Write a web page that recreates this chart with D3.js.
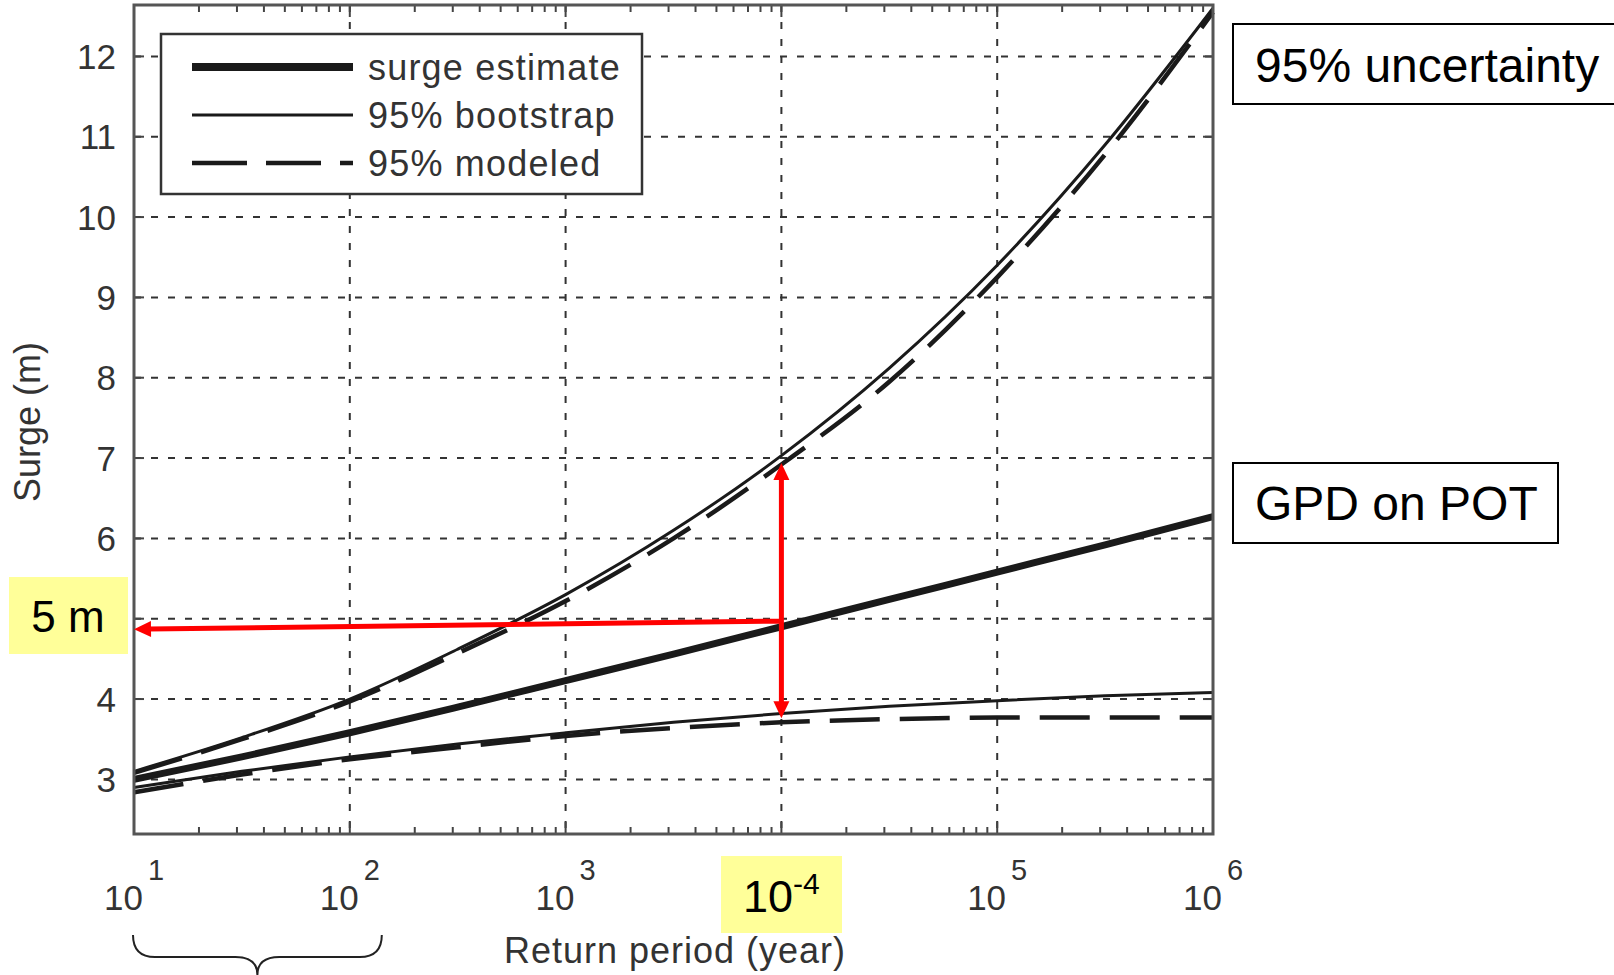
<!DOCTYPE html>
<html>
<head>
<meta charset="utf-8">
<script src="https://cdn.jsdelivr.net/npm/d3@7"></script>
<style>
  body { margin: 0; background: #fff; }
  text { font-family: "Liberation Sans", Arial, sans-serif; }
</style>
</head>
<body>
<svg id="chart" width="1614" height="975"></svg>
<script>
// return periods (years), half-decade steps
var returnPeriods = [10, 31.6, 100, 316, 1000, 3162, 10000, 31623, 100000, 316228, 1000000];
var surgeEstimate = [3.0, 3.28, 3.58, 3.9, 4.23, 4.56, 4.9, 5.24, 5.58, 5.92, 6.27];
var bootUpper = [3.1, 3.52, 4.0, 4.62, 5.3, 6.1, 7.03, 8.12, 9.4, 10.9, 12.6];
var bootLower = [2.9, 3.1, 3.28, 3.44, 3.58, 3.71, 3.82, 3.91, 3.98, 4.04, 4.08];
var modelUpper = [3.08, 3.5, 3.97, 4.57, 5.22, 6.0, 6.92, 7.95, 9.25, 10.78, 12.55];
var modelLower = [2.84, 3.06, 3.25, 3.4, 3.54, 3.64, 3.71, 3.75, 3.77, 3.77, 3.77];

var xTicks = [10, 100, 1000, 10000, 100000, 1000000];
var xTickExp = ['1', '2', '3', '-4', '5', '6'];
var yTicks = [3, 4, 5, 6, 7, 8, 9, 10, 11, 12];
var yTickLabels = ['3', '4', '', '6', '7', '8', '9', '10', '11', '12']; // "5" is under the yellow "5 m" note
var legendLabels = ['surge estimate', '95% bootstrap', '95% modeled'];

// annotation values
var arrowH = [[10000, 4.97], [10, 4.87]];
var arrowV = [[10000, 3.76], [10000, 6.94]];

var svg = d3.select('#chart');
var pLeft = 134, pRight = 1213, pTop = 5, pBottom = 834;

var x = d3.scaleLog().domain([10, 1000000]).range([pLeft, pRight]);
var y = d3.scaleLinear().domain([2.32, 12.64]).range([pBottom, pTop]);

svg.append('rect').attr('width', 1614).attr('height', 975).attr('fill', '#fff');

// grid
var grid = svg.append('g').attr('stroke', '#333').attr('stroke-width', 2).attr('stroke-dasharray', '7,10');
grid.selectAll('.gx').data(xTicks.slice(1, -1)).enter().append('line')
  .attr('x1', function(d) { return x(d); }).attr('x2', function(d) { return x(d); })
  .attr('y1', pTop).attr('y2', pBottom);
grid.selectAll('.gy').data(yTicks).enter().append('line')
  .attr('x1', pLeft).attr('x2', pRight)
  .attr('y1', function(d) { return y(d); }).attr('y2', function(d) { return y(d); });

// minor/major ticks
var minor = [];
for (var e = 1; e < 6; e++) {
  for (var k = 2; k < 10; k++) minor.push(k * Math.pow(10, e));
}
var ticks = svg.append('g').attr('stroke', '#444').attr('stroke-width', 2);
minor.forEach(function(d) {
  ticks.append('line').attr('x1', x(d)).attr('x2', x(d)).attr('y1', pBottom).attr('y2', pBottom - 7);
  ticks.append('line').attr('x1', x(d)).attr('x2', x(d)).attr('y1', pTop).attr('y2', pTop + 7);
});
xTicks.forEach(function(d) {
  ticks.append('line').attr('x1', x(d)).attr('x2', x(d)).attr('y1', pBottom).attr('y2', pBottom - 12);
  ticks.append('line').attr('x1', x(d)).attr('x2', x(d)).attr('y1', pTop).attr('y2', pTop + 12);
});
yTicks.forEach(function(d) {
  ticks.append('line').attr('x1', pLeft).attr('x2', pLeft + 10).attr('y1', y(d)).attr('y2', y(d));
  ticks.append('line').attr('x1', pRight).attr('x2', pRight - 10).attr('y1', y(d)).attr('y2', y(d));
});

// curves
var pts = function(vals) { return returnPeriods.map(function(p, i) { return [p, vals[i]]; }); };
var line = d3.line().x(function(d) { return x(d[0]); }).y(function(d) { return y(d[1]); }).curve(d3.curveMonotoneX);
var plot = svg.append('g').attr('fill', 'none').attr('stroke', '#1a1a1a');
plot.append('path').attr('d', line(pts(modelUpper))).attr('stroke-width', 4.5).attr('stroke-dasharray', '50,20');
plot.append('path').attr('d', line(pts(modelLower))).attr('stroke-width', 4.5).attr('stroke-dasharray', '50,20');
plot.append('path').attr('d', line(pts(bootUpper))).attr('stroke-width', 3);
plot.append('path').attr('d', line(pts(bootLower))).attr('stroke-width', 3);
plot.append('path').attr('d', line(pts(surgeEstimate))).attr('stroke-width', 7);

// frame
svg.append('rect').attr('x', pLeft).attr('y', pTop).attr('width', pRight - pLeft).attr('height', pBottom - pTop)
  .attr('fill', 'none').attr('stroke', '#555').attr('stroke-width', 3);

// legend
var lg = svg.append('g');
lg.append('rect').attr('x', 161).attr('y', 34).attr('width', 481).attr('height', 160)
  .attr('fill', '#fff').attr('stroke', '#333').attr('stroke-width', 2.5);
var legStyles = [{w: 8, dash: null}, {w: 3, dash: null}, {w: 4.5, dash: '55,19'}];
legendLabels.forEach(function(lab, i) {
  var ly = 67 + i * 48;
  lg.append('line').attr('x1', 192).attr('x2', 353).attr('y1', ly).attr('y2', ly)
    .attr('stroke', '#1a1a1a').attr('stroke-width', legStyles[i].w)
    .attr('stroke-dasharray', legStyles[i].dash);
  lg.append('text').attr('x', 368).attr('y', ly).attr('dy', '0.36em')
    .attr('font-size', 36).attr('letter-spacing', 1.2).attr('fill', '#333').text(lab);
});

// y tick labels
svg.selectAll('.ylab').data(yTicks).enter().append('text')
  .attr('x', 116).attr('y', function(d) { return y(d); }).attr('dy', '0.36em')
  .attr('text-anchor', 'end').attr('font-size', 35).attr('fill', '#333')
  .text(function(d, i) { return yTickLabels[i]; });

// x tick labels
xTicks.forEach(function(d, i) {
  if (xTickExp[i] === '-4') {
    svg.append('rect').attr('x', 721).attr('y', 856).attr('width', 121).attr('height', 77).attr('fill', '#ffff99');
    var t4 = svg.append('text').attr('x', x(d)).attr('y', 912).attr('text-anchor', 'middle')
      .attr('font-size', 45).attr('fill', '#000');
    t4.append('tspan').text('10');
    t4.append('tspan').attr('dy', -18).attr('font-size', 30).text('-4');
    return;
  }
  var t = svg.append('text').attr('x', x(d)).attr('y', 910).attr('text-anchor', 'middle')
    .attr('font-size', 35).attr('fill', '#333');
  t.append('tspan').text('10');
  t.append('tspan').attr('dx', 5).attr('dy', -30).attr('font-size', 29).text(xTickExp[i]);
});

// axis titles
svg.append('text').attr('transform', 'translate(40,422) rotate(-90)').attr('text-anchor', 'middle')
  .attr('font-size', 36).attr('fill', '#333').text('Surge (m)');
svg.append('text').attr('x', 675).attr('y', 963).attr('text-anchor', 'middle')
  .attr('font-size', 36).attr('letter-spacing', 1).attr('fill', '#333').text('Return period (year)');

// red arrows
function arrow(g, p0, p1) {
  var dx = p1[0] - p0[0], dy = p1[1] - p0[1], len = Math.sqrt(dx * dx + dy * dy);
  var ux = dx / len, uy = dy / len, hl = 17, hw = 8;
  var bx = p1[0] - ux * hl, by = p1[1] - uy * hl;
  g.append('polygon').attr('fill', '#ff0000')
    .attr('points', [[p1[0], p1[1]], [bx - uy * hw, by + ux * hw], [bx + uy * hw, by - ux * hw]].join(' '));
  return [bx + ux * 2, by + uy * 2];
}
var red = svg.append('g');
var h0 = [x(arrowH[0][0]), y(arrowH[0][1])], h1 = [x(arrowH[1][0]), y(arrowH[1][1])];
var hEnd = arrow(red, h0, h1);
red.append('line').attr('x1', h0[0]).attr('y1', h0[1]).attr('x2', hEnd[0]).attr('y2', hEnd[1])
  .attr('stroke', '#ff0000').attr('stroke-width', 5);
var v0 = [x(arrowV[0][0]), y(arrowV[0][1])], v1 = [x(arrowV[1][0]), y(arrowV[1][1])];
var vEnd1 = arrow(red, v0, v1), vEnd0 = arrow(red, v1, v0);
red.append('line').attr('x1', vEnd0[0]).attr('y1', vEnd0[1]).attr('x2', vEnd1[0]).attr('y2', vEnd1[1])
  .attr('stroke', '#ff0000').attr('stroke-width', 5);

// "5 m" label
svg.append('rect').attr('x', 9).attr('y', 577).attr('width', 119).attr('height', 77).attr('fill', '#ffff99');
svg.append('text').attr('x', 68).attr('y', 632).attr('text-anchor', 'middle')
  .attr('font-size', 44).attr('fill', '#000').text('5 m');

// boxed notes on the right
svg.append('rect').attr('x', 1233).attr('y', 24).attr('width', 400).attr('height', 80)
  .attr('fill', '#fff').attr('stroke', '#000').attr('stroke-width', 2);
svg.append('text').attr('x', 1255).attr('y', 82).attr('font-size', 48).attr('fill', '#000').text('95% uncertainty');
svg.append('rect').attr('x', 1233).attr('y', 463).attr('width', 325).attr('height', 80)
  .attr('fill', '#fff').attr('stroke', '#000').attr('stroke-width', 2);
svg.append('text').attr('x', 1255).attr('y', 520).attr('font-size', 48).attr('fill', '#000').text('GPD on POT');

// brace under 10^1..10^2
var bl = x(10) - 1, br = x(100) + 32, bm = (bl + br) / 2;
svg.append('path').attr('fill', 'none').attr('stroke', '#222').attr('stroke-width', 2)
  .attr('d', 'M' + bl + ',935 Q' + bl + ',957 ' + (bl + 22) + ',957 L' + (bm - 22) + ',957 Q' + bm + ',957 ' + bm + ',975'
    + ' Q' + bm + ',957 ' + (bm + 22) + ',957 L' + (br - 22) + ',957 Q' + br + ',957 ' + br + ',935');
</script>
</body>
</html>
